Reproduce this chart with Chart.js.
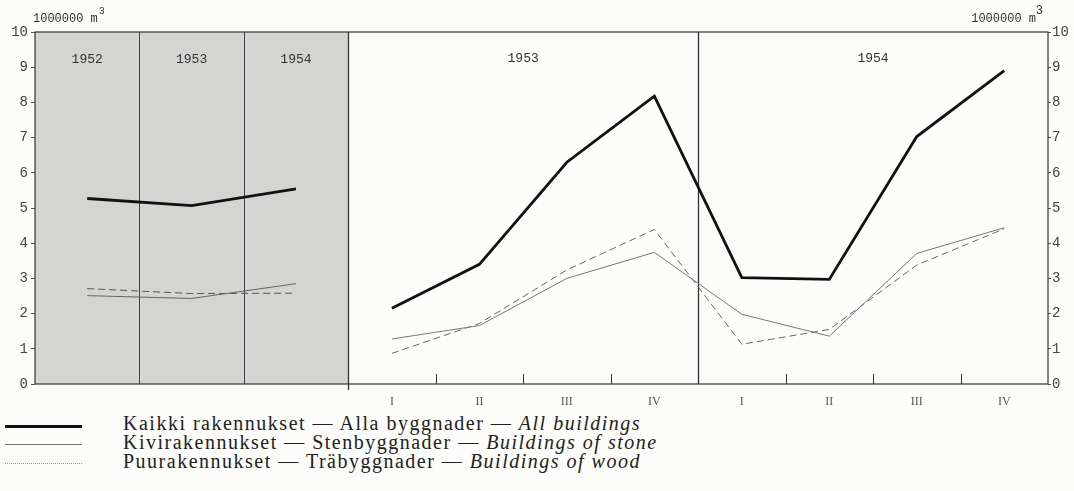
<!DOCTYPE html>
<html>
<head>
<meta charset="utf-8">
<script src="https://cdn.jsdelivr.net/npm/chart.js@4/dist/chart.umd.min.js"></script>
<style>
  html, body { margin: 0; padding: 0; background: #fcfcfb; }
  #wrap { position: relative; width: 1074px; height: 491px; overflow: hidden; }
  canvas { display: block; }
  .legend { position: absolute; left: 0; top: 414px; font-family: "Liberation Serif", "DejaVu Serif", serif; font-size: 20px; letter-spacing: 1.5px; color: #222; }
  .row { height: 19px; line-height: 19px; white-space: nowrap; position: relative; }
  .swatch { position: absolute; left: 5px; width: 77px; top: 11px; }
  .txt { position: absolute; left: 123px; top: 0; }
  .txt i { font-style: italic; }
</style>
</head>
<body>
<div id="wrap">
  <canvas id="chart" width="1074" height="410"></canvas>
  <div class="legend">
    <div class="row"><span class="swatch" style="border-top: 3px solid #111;"></span><span class="txt">Kaikki rakennukset — Alla byggnader — <i>All buildings</i></span></div>
    <div class="row"><span class="swatch" style="border-top: 1px solid #777;"></span><span class="txt">Kivirakennukset — Stenbyggnader — <i>Buildings of stone</i></span></div>
    <div class="row"><span class="swatch" style="border-top: 1px dotted #999;"></span><span class="txt">Puurakennukset — Träbyggnader — <i>Buildings of wood</i></span></div>
  </div>
</div>
<script>
// annual panel (left, shaded)
const years = ["1952", "1953", "1954"];
const annualAll = [5.27, 5.07, 5.54];
const annualStone = [2.51, 2.43, 2.85];
const annualWood = [2.71, 2.57, 2.58];

// quarterly panel (right)
const quarterYears = ["1953", "1954"];
const quarterLabels = ["I", "II", "III", "IV", "I", "II", "III", "IV"];
const quarterAll = [2.15, 3.40, 6.30, 8.18, 3.02, 2.97, 7.03, 8.90];
const quarterStone = [1.28, 1.66, 3.00, 3.74, 1.98, 1.36, 3.71, 4.44];
const quarterWood = [0.87, 1.72, 3.24, 4.39, 1.13, 1.55, 3.38, 4.41];

const yTicks = [0, 1, 2, 3, 4, 5, 6, 7, 8, 9, 10];
const unitLabel = "1000000 m";

// width of the annual panel, in quarter slots
const LEFT = 3.58;
const annualX = i => LEFT * (i + 0.5) / years.length;
const quarterX = i => LEFT + i + 0.5;

const toPoints = (vals, xf) => vals.map((v, i) => ({ x: xf(i), y: v }));

const mono = '"Liberation Mono", "DejaVu Sans Mono", monospace';

const framePlugin = {
  id: "frame",
  beforeDatasetsDraw(chart) {
    const { ctx, chartArea: a, scales: { x, y } } = chart;
    ctx.save();
    const xl = x.getPixelForValue(LEFT);
    ctx.fillStyle = "#d4d4d2";
    ctx.fillRect(a.left, a.top, xl - a.left, a.bottom - a.top);

    ctx.strokeStyle = "#333";
    ctx.lineWidth = 1.2;
    ctx.strokeRect(a.left, a.top, a.right - a.left, a.bottom - a.top);

    // dividers
    ctx.lineWidth = 1;
    ctx.strokeStyle = "#444";
    for (let i = 1; i < years.length; i++) {
      const px = Math.round(x.getPixelForValue(LEFT * i / years.length)) + 0.5;
      ctx.beginPath(); ctx.moveTo(px, a.top); ctx.lineTo(px, a.bottom); ctx.stroke();
    }
    ctx.lineWidth = 1.3;
    ctx.strokeStyle = "#333";
    [LEFT, LEFT + 4].forEach(v => {
      const px = Math.round(x.getPixelForValue(v)) + 0.5;
      ctx.beginPath(); ctx.moveTo(px, a.top); ctx.lineTo(px, a.bottom + (v === LEFT ? 6 : 0)); ctx.stroke();
    });

    // small quarter ticks
    ctx.lineWidth = 1;
    [1, 2, 3, 5, 6, 7].forEach(q => {
      const px = Math.round(x.getPixelForValue(LEFT + q)) + 0.5;
      ctx.beginPath(); ctx.moveTo(px, a.bottom); ctx.lineTo(px, a.bottom - 10); ctx.stroke();
    });

    // period labels
    ctx.fillStyle = "#333";
    ctx.font = "13px " + mono;
    ctx.textAlign = "center";
    ctx.textBaseline = "alphabetic";
    years.forEach((t, i) => ctx.fillText(t, x.getPixelForValue(annualX(i)), 63));
    quarterYears.forEach((t, i) => ctx.fillText(t, x.getPixelForValue(LEFT + 4 * i + 2), 62));

    // unit labels
    ctx.font = "12px " + mono;
    ctx.textAlign = "left";
    ctx.fillText(unitLabel, a.left - 2, 22);
    const w = ctx.measureText(unitLabel).width;
    ctx.font = "10px " + mono;
    ctx.fillText("3", a.left - 2 + w + 1, 14);

    ctx.font = "12px " + mono;
    ctx.textAlign = "right";
    ctx.fillText("3", a.right - 5, 14);
    ctx.fillText(unitLabel, a.right - 12, 22);
    ctx.restore();
  }
};

const yCommon = {
  min: 0,
  max: 10,
  afterBuildTicks: s => { s.ticks = yTicks.map(v => ({ value: v })); },
  grid: { drawOnChartArea: false, tickLength: 4, color: "#555" },
  border: { display: false }
};

new Chart(document.getElementById("chart"), {
  type: "line",
  data: {
    datasets: [
      { label: "All annual", data: toPoints(annualAll, annualX), borderColor: "#111", borderWidth: 2.8 },
      { label: "Stone annual", data: toPoints(annualStone, annualX), borderColor: "#666", borderWidth: 1 },
      { label: "Wood annual", data: toPoints(annualWood, annualX), borderColor: "#555", borderWidth: 1, borderDash: [7, 4] },
      { label: "All quarterly", data: toPoints(quarterAll, quarterX), borderColor: "#111", borderWidth: 2.8 },
      { label: "Stone quarterly", data: toPoints(quarterStone, quarterX), borderColor: "#777", borderWidth: 1 },
      { label: "Wood quarterly", data: toPoints(quarterWood, quarterX), borderColor: "#666", borderWidth: 1, borderDash: [7, 4] }
    ]
  },
  options: {
    responsive: false,
    animation: false,
    layout: { padding: { top: 32, left: 0, right: 0, bottom: 0 } },
    elements: { point: { radius: 0 }, line: { tension: 0 } },
    plugins: { legend: { display: false }, tooltip: { enabled: false } },
    scales: {
      x: {
        type: "linear",
        min: 0,
        max: LEFT + quarterLabels.length,
        afterBuildTicks: s => { s.ticks = quarterLabels.map((l, i) => ({ value: quarterX(i) })); },
        afterFit: s => { s.height = 26; },
        ticks: {
          autoSkip: false,
          maxRotation: 0,
          padding: 3,
          color: "#555",
          font: { family: '"Liberation Serif", serif', size: 12 },
          callback: (v, i) => quarterLabels[i]
        },
        grid: { display: false },
        border: { display: false }
      },
      y: {
        ...yCommon,
        position: "left",
        afterFit: s => { s.width = 35; },
        ticks: { color: "#444", padding: 3, font: { family: mono, size: 14 } }
      },
      y2: {
        ...yCommon,
        position: "right",
        afterFit: s => { s.width = 26; },
        grid: { drawOnChartArea: false, tickLength: 3, color: "#555" },
        ticks: { color: "#444", padding: 1, font: { family: mono, size: 14 } }
      }
    }
  },
  plugins: [framePlugin]
});
</script>
</body>
</html>
